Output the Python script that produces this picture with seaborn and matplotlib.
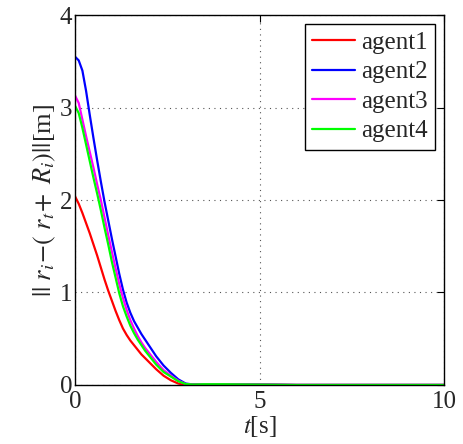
import numpy as np
import pandas as pd
import seaborn as sns
import matplotlib.pyplot as plt

# time samples [s] and distance readings for each agent [m]
t = [0, 0.1, 0.2, 0.3, 0.4, 0.5, 0.6, 0.7, 0.8, 0.9, 1.0, 1.1, 1.2, 1.3, 1.4, 1.5,
     1.6, 1.7, 1.8, 1.9, 2.0, 2.2, 2.4, 2.6, 2.8, 3.0, 3.2, 3.5, 4, 5, 6, 7, 8, 9, 10]
agent1 = [2.04, 1.96, 1.86, 1.75, 1.64, 1.52, 1.40, 1.27, 1.14, 1.02, 0.91, 0.80, 0.70,
          0.61, 0.54, 0.48, 0.43, 0.38, 0.33, 0.29, 0.25, 0.17, 0.10, 0.05, 0.015, 0.0,
          0.004, 0.008, 0.008, 0.004, 0, 0, 0, 0, 0]
agent2 = [3.55, 3.51, 3.40, 3.18, 2.92, 2.67, 2.43, 2.20, 1.98, 1.78, 1.58, 1.39, 1.20,
          1.03, 0.89, 0.78, 0.69, 0.62, 0.55, 0.49, 0.43, 0.31, 0.21, 0.13, 0.06, 0.015,
          0.005, 0.008, 0.008, 0.004, 0, 0, 0, 0, 0]
agent3 = [3.13, 3.05, 2.87, 2.69, 2.52, 2.35, 2.17, 2.00, 1.81, 1.62, 1.44, 1.26, 1.09,
          0.94, 0.81, 0.70, 0.61, 0.53, 0.46, 0.40, 0.35, 0.25, 0.16, 0.10, 0.045, 0.01,
          0.005, 0.008, 0.008, 0.004, 0, 0, 0, 0, 0]
agent4 = [3.02, 2.94, 2.78, 2.60, 2.42, 2.24, 2.07, 1.89, 1.70, 1.52, 1.33, 1.16, 0.99,
          0.85, 0.74, 0.64, 0.56, 0.49, 0.43, 0.37, 0.32, 0.22, 0.14, 0.09, 0.04, 0.01,
          0.005, 0.008, 0.008, 0.004, 0, 0, 0, 0, 0]
names = ['agent1', 'agent2', 'agent3', 'agent4']
colors = ['#ff0000', '#0000ff', '#ff00ff', '#00ff00']

df = pd.DataFrame({'t': t, 'agent1': agent1, 'agent2': agent2,
                   'agent3': agent3, 'agent4': agent4})
df = df.melt(id_vars='t', var_name='agent', value_name='d')

sns.set_style('white')
plt.rcParams['font.family'] = ['Liberation Serif', 'DejaVu Serif']
plt.rcParams['mathtext.fontset'] = 'stix'

fig = plt.figure(figsize=(4.63, 4.44), dpi=100)
ax = fig.add_axes([0.162, 0.133, 0.797, 0.833])

sns.lineplot(data=df, x='t', y='d', hue='agent', hue_order=names,
             palette=dict(zip(names, colors)), linewidth=1.6, ax=ax)

ax.set_xlim(0, 10)
ax.set_ylim(0, 4)
ax.set_xticks([0, 5, 10])
ax.set_yticks([0, 1, 2, 3, 4])
ax.grid(True, linestyle=(0, (1, 4)), color='#555555', linewidth=0.8)
ax.tick_params(direction='in', length=5, labelsize=18, top=True, right=True,
               pad=2, color='black')
ax.tick_params(axis='x', pad=4)
for s in ax.spines.values():
    s.set_color('black')
    s.set_linewidth(1.0)

ax.set_xlabel(r'$t$[s]', fontsize=18, labelpad=1)
ax.set_ylabel(r'$||\ r_i\!-\!(\ r_t\!+\ R_i)||$[m]', fontsize=19, labelpad=1)

leg = ax.legend(loc='upper right', fontsize=18, frameon=True, fancybox=False,
                framealpha=1, edgecolor='black', handlelength=1.7,
                labelspacing=0.28, borderpad=0.3, handletextpad=0.25,
                borderaxespad=0.35)
leg.get_frame().set_linewidth(1.0)

fig.savefig('out.png', dpi=100)
